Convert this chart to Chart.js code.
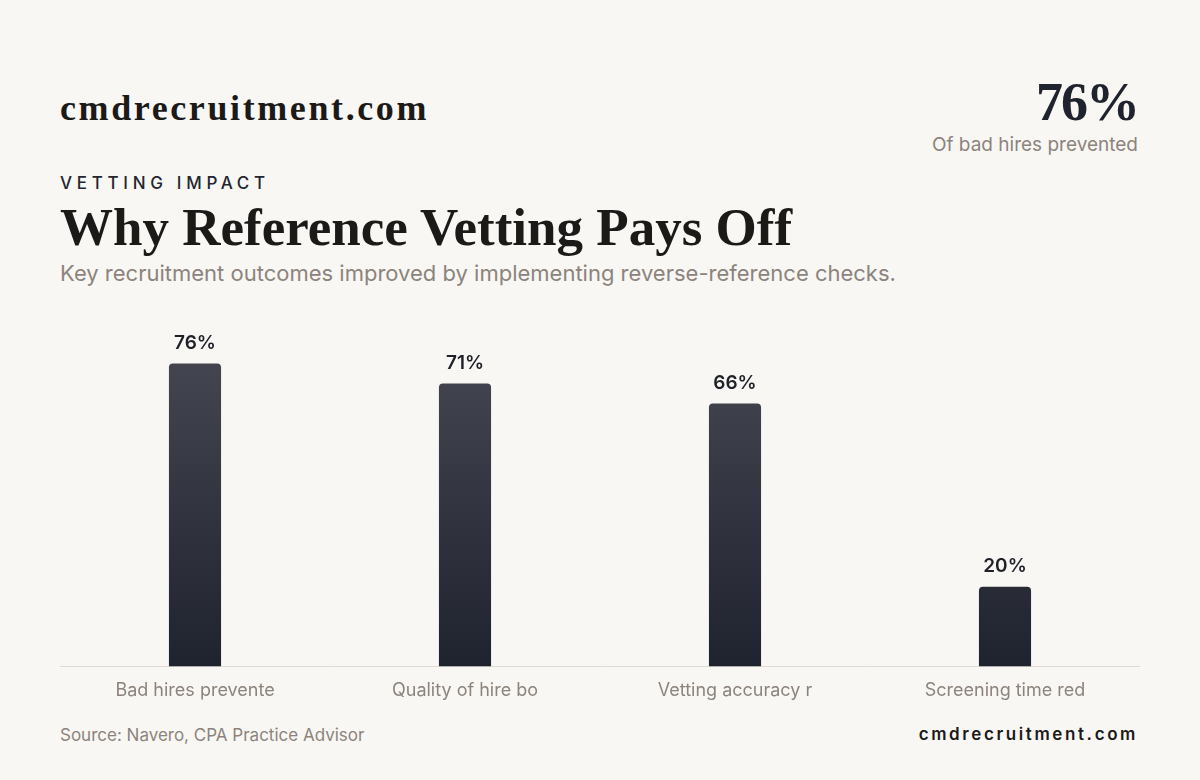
<!DOCTYPE html>
<html>
<head>
<meta charset="utf-8">
<script src="https://cdn.jsdelivr.net/npm/chart.js@4"></script>
<style>
  html,body{margin:0;padding:0;}
  body{width:1200px;height:780px;background:#f9f7f4;position:relative;overflow:hidden;font-family:Inter,sans-serif;}
  .brand{position:absolute;left:60px;top:90px;font-family:"Liberation Serif",serif;font-weight:700;font-size:36px;letter-spacing:2.6px;color:#1b1a18;line-height:1;}
  .stat{position:absolute;right:62px;top:75px;text-align:right;}
  .stat .num{font-family:"Liberation Serif",serif;font-weight:700;font-size:54px;letter-spacing:-2px;color:#1f232d;line-height:1;}
  .stat .lbl{font-size:19px;color:#8c847c;margin-top:4px;}
  .kicker{position:absolute;left:60px;top:173px;font-size:17px;font-weight:500;letter-spacing:4.7px;color:#23262f;}
  h1{position:absolute;left:60px;top:201px;margin:0;font-family:"Liberation Serif",serif;font-weight:700;font-size:53px;color:#1b1a18;line-height:1;}
  .sub{position:absolute;left:60px;top:260px;font-size:22px;color:#8c847c;}
  .wrap{position:absolute;left:60px;top:303px;width:1080px;height:403px;}
  .src{position:absolute;left:60px;top:725px;font-size:17px;color:#8c847c;}
  .foot{position:absolute;right:62px;top:724px;font-size:17px;font-weight:600;letter-spacing:2.6px;color:#1b1a18;}
</style>
</head>
<body>
<div class="brand">cmdrecruitment.com</div>
<div class="stat"><div class="num">76%</div><div class="lbl">Of bad hires prevented</div></div>
<div class="kicker">VETTING IMPACT</div>
<h1>Why Reference Vetting Pays Off</h1>
<div class="sub">Key recruitment outcomes improved by implementing reverse-reference checks.</div>
<div class="wrap"><canvas id="grafico"></canvas></div>
<div class="src">Source: Navero, CPA Practice Advisor</div>
<div class="foot">cmdrecruitment.com</div>
<script>
// dados do gráfico
const categorias = ['Bad hires prevente', 'Quality of hire bo', 'Vetting accuracy r', 'Screening time red'];
const valores = [76, 71, 66, 20];

// rótulos de valor acima das barras
const rotulos = {
  id: 'rotulos',
  afterDatasetsDraw(chart){
    const c = chart.ctx;
    c.save();
    c.font = '600 19px Inter';
    c.fillStyle = '#1f2129';
    c.textAlign = 'center';
    c.textBaseline = 'bottom';
    chart.getDatasetMeta(0).data.forEach((bar, i)=>{
      c.fillText(valores[i] + '%', bar.x, bar.y - 11);
    });
    c.restore();
  }
};

function gradiente(context){
  const area = context.chart.chartArea;
  if(!area) return '#2a2d37';
  const g = context.chart.ctx.createLinearGradient(0, area.top, 0, area.bottom);
  g.addColorStop(0, '#4a4b56');
  g.addColorStop(1, '#1f232d');
  return g;
}

const ctx = document.getElementById('grafico').getContext('2d');
const grafico = new Chart(ctx, {
  type: 'bar',
  data: {labels: categorias, datasets: [{data: valores, backgroundColor: gradiente, borderRadius: {topLeft:4, topRight:4}, borderSkipped: 'bottom', barPercentage: 0.193, categoryPercentage: 1}]},
  options: {
    responsive: true, maintainAspectRatio: false, animation: false,
    layout: {padding: 0},
    plugins: {legend: {display: false}, tooltip: {enabled: false}},
    scales: {
      x: {grid: {display: false}, border: {color: '#dfdbd4', width: 1}, ticks: {color: '#8c847c', font: {family: 'Inter', size: 18}, padding: 5}},
      y: {display: false, beginAtZero: true, max: Math.max(...valores) * 1.2}
    }
  },
  plugins: [rotulos]
});
</script>
</body>
</html>
